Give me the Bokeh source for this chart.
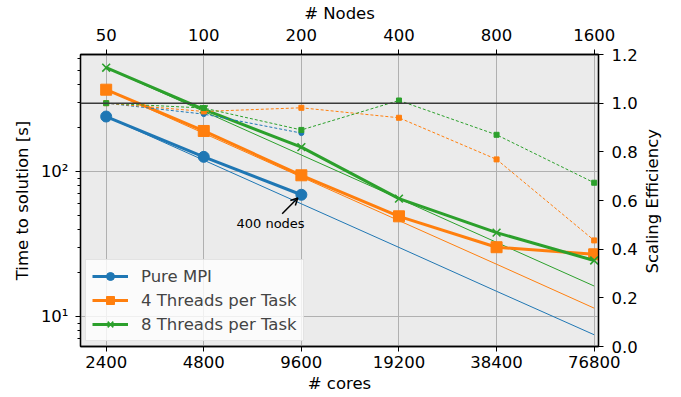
import math
from bokeh.plotting import figure
from bokeh.models import (Range1d, LinearAxis, LogAxis, FixedTicker, LinearScale, Legend,
                          LegendItem, Arrow, OpenHead, Label, Span, PrintfTickFormatter,
                          CustomJSTickFormatter)
from bokeh.embed import file_html
from bokeh.resources import INLINE

# ---------------- data ----------------
cores = [2400, 4800, 9600, 19200, 38400, 76800]
nodes = [50, 100, 200, 400, 800, 1600]

mpi_cores = [2400, 4800, 9600]
mpi_time = [239, 126, 69]
mpi_ideal = [239, 119.5, 59.75, 29.9, 14.9, 7.47]
mpi_eff = [1.0, 0.955, 0.877]

t4_time = [366, 190, 94, 49, 30, 26.8]
t4_ideal = [366, 183, 91.5, 45.75, 22.9, 11.4]
t4_eff = [1.0, 0.966, 0.981, 0.94, 0.769, 0.436]

t8_time = [519, 268, 147, 64.9, 37.8, 24.3]
t8_ideal = [519, 259.5, 129.75, 64.9, 32.4, 16.2]
t8_eff = [1.0, 0.98, 0.89, 1.011, 0.87, 0.673]

eff_ticks = [0.0, 0.2, 0.4, 0.6, 0.8, 1.0, 1.2]
time_ticks = [10, 100]
time_labels = ["10¹", "10²"]

BLUE, ORANGE, GREEN = "#1f77b4", "#ff7f0e", "#2ca02c"
FONT = "DejaVu Sans"
FS = "16.5px"

p = figure(width=681, height=397, x_axis_type="log", y_axis_type="log",
           x_range=Range1d(2000, 79200), y_range=Range1d(6.2, 640),
           output_backend="svg", toolbar_location=None,
           min_border_left=80, min_border_right=83, min_border_top=54, min_border_bottom=51,
           background_fill_color="#ebebeb", outline_line_color="black", outline_line_width=1.3)
p.extra_y_ranges = {"eff": Range1d(0, 1.2)}
p.extra_y_scales = {"eff": LinearScale()}

minor_time = [m * 10 ** e for e in (0, 1, 2) for m in range(2, 10)]


def style_axis(ax):
    ax.major_label_text_font = FONT
    ax.major_label_text_font_size = FS
    ax.major_label_text_color = "black"
    ax.axis_label_text_font = FONT
    ax.axis_label_text_font_size = FS
    ax.axis_label_text_font_style = "normal"
    ax.axis_label_text_color = "black"
    ax.axis_line_color = "black"
    ax.axis_line_width = 1.3
    ax.major_tick_in = 0
    ax.major_tick_out = 5
    ax.minor_tick_in = 0
    ax.minor_tick_out = 3
    ax.major_tick_line_color = "black"
    ax.minor_tick_line_color = "black"
    ax.major_label_standoff = 3
    ax.axis_label_standoff = 2


xb = p.xaxis[0]
xb.ticker = FixedTicker(ticks=cores, minor_ticks=[])
xb.major_label_overrides = {c: str(c) for c in cores}
xb.axis_label = "# cores"
style_axis(xb)
xb.major_label_standoff = 4
xb.axis_label_standoff = 3

yl = p.yaxis[0]
yl.ticker = FixedTicker(ticks=time_ticks, minor_ticks=minor_time)
yl.major_label_overrides = dict(zip(time_ticks, time_labels))
yl.axis_label = "Time to solution [s]"
style_axis(yl)
yl.major_label_standoff = 7
yl.axis_label_standoff = 6

xt = LogAxis(ticker=FixedTicker(ticks=cores, minor_ticks=[]),
             major_label_overrides={c: str(n) for c, n in zip(cores, nodes)},
             axis_label="# Nodes")
style_axis(xt)
xt.major_label_standoff = 9
xt.axis_label_standoff = 3
p.add_layout(xt, "above")

yr = LinearAxis(y_range_name="eff", ticker=FixedTicker(ticks=eff_ticks, minor_ticks=[]),
                formatter=PrintfTickFormatter(format="%.1f"))
style_axis(yr)
yr.major_label_standoff = 8
p.add_layout(yr, "right")

# right axis title, reading bottom-to-top like the reference:
# a tick-less axis whose single rotated label is the title (anchored at its start)
yr_title = LinearAxis(y_range_name="eff", ticker=FixedTicker(ticks=[0.3], minor_ticks=[]),
                      formatter=CustomJSTickFormatter(code="return 'Scaling Efficiency'"),
                      major_label_orientation=math.pi / 2)
style_axis(yr_title)
yr_title.axis_line_color = None
yr_title.major_tick_line_color = None
yr_title.major_tick_out = 0
yr_title.major_label_standoff = 12
p.add_layout(yr_title, "right")

p.xgrid.ticker = FixedTicker(ticks=cores, minor_ticks=[])
p.ygrid.ticker = FixedTicker(ticks=time_ticks, minor_ticks=[])
for g in (p.xgrid, p.ygrid):
    g.grid_line_color = "#b0b0b0"
    g.grid_line_width = 1

# ideal scaling lines
for ideal, col in ((mpi_ideal, BLUE), (t4_ideal, ORANGE), (t8_ideal, GREEN)):
    p.line(cores, ideal, line_color=col, line_width=1)

# measured times
l1 = p.line(mpi_cores, mpi_time, line_color=BLUE, line_width=3)
s1 = p.scatter(mpi_cores, mpi_time, marker="circle", size=11, fill_color=BLUE, line_color=BLUE)
l2 = p.line(cores, t4_time, line_color=ORANGE, line_width=3)
s2 = p.scatter(cores, t4_time, marker="square", size=11, fill_color=ORANGE, line_color=ORANGE)
l3 = p.line(cores, t8_time, line_color=GREEN, line_width=3)
s3 = p.scatter(cores, t8_time, marker="x", size=11, line_color=GREEN, line_width=1.6)

# efficiencies
p.add_layout(Span(location=1.0, dimension="width", y_range_name="eff",
                  line_color="#3a3a3a", line_width=1.5))
for xs, eff, col, mk in ((mpi_cores, mpi_eff, BLUE, "circle"),
                         (cores, t4_eff, ORANGE, "square"),
                         (cores, t8_eff, GREEN, "square")):
    p.line(xs, eff, y_range_name="eff", line_color=col, line_width=1, line_dash="3 2")
    p.scatter(xs, eff, y_range_name="eff", marker=mk, size=5, fill_color=col, line_color=col)

# annotation
p.add_layout(Arrow(end=OpenHead(size=7, line_width=1.5, line_color="black"),
                   x_start=8376, y_start=51, x_end=9358, y_end=65.5,
                   line_width=1.5, line_color="black"))
p.add_layout(Label(x=7713, y=43.6, text="400 nodes", text_align="center",
                   text_baseline="middle", text_font=FONT, text_font_size="13px",
                   text_color="black"))

legend = Legend(items=[LegendItem(label="Pure MPI", renderers=[l1, s1]),
                       LegendItem(label="4 Threads per Task", renderers=[l2, s2]),
                       LegendItem(label="8 Threads per Task", renderers=[l3, s3])],
                location="bottom_left")
legend.label_text_font = FONT
legend.label_text_font_size = FS
legend.glyph_width = 36
legend.glyph_height = 20
legend.label_height = 20
legend.label_standoff = 13
legend.spacing = 4
legend.padding = 6
legend.margin = 5
legend.border_line_color = "#cccccc"
legend.background_fill_alpha = 0.8
p.add_layout(legend)

open("out.html", "w").write(file_html(p, INLINE))
